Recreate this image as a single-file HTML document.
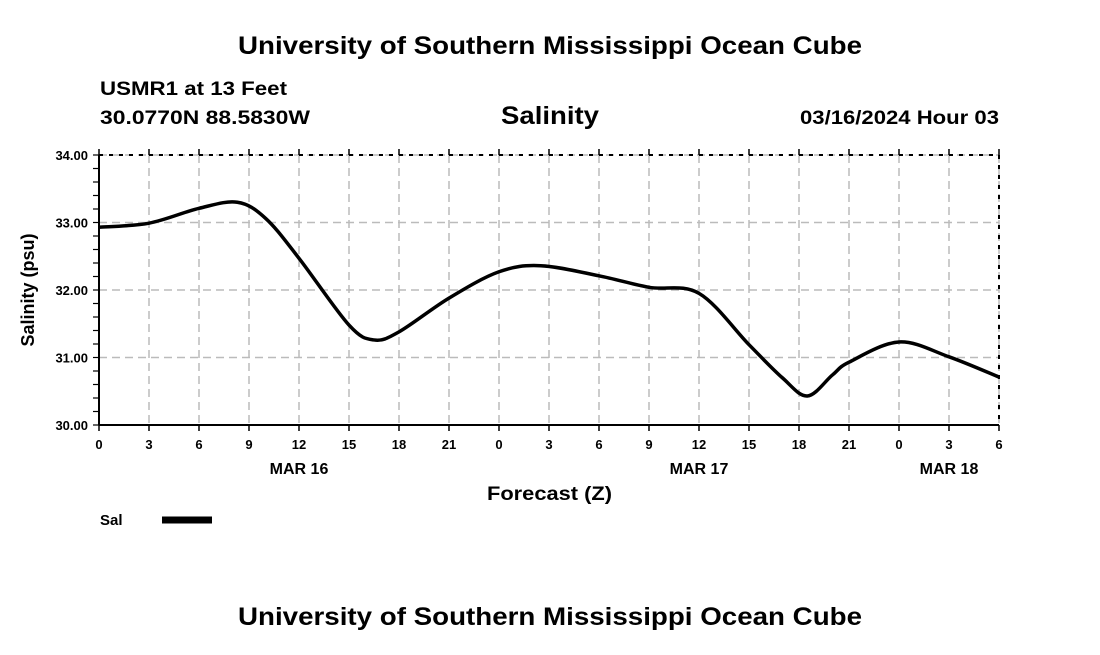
<!DOCTYPE html>
<html><head><meta charset="utf-8"><style>
body{margin:0;background:#fff;width:1100px;height:650px;overflow:hidden}
svg text{font-family:"Liberation Sans",sans-serif;font-weight:bold;fill:#000}
</style></head><body>
<svg id="c" width="1100" height="650">
<text x="238" y="54" font-size="25" textLength="624" lengthAdjust="spacingAndGlyphs">University of Southern Mississippi Ocean Cube</text>
<text x="100" y="95" font-size="19" textLength="187" lengthAdjust="spacingAndGlyphs">USMR1 at 13 Feet</text>
<text x="100" y="124" font-size="19" textLength="210" lengthAdjust="spacingAndGlyphs">30.0770N  88.5830W</text>
<text x="501" y="124" font-size="25" textLength="98" lengthAdjust="spacingAndGlyphs">Salinity</text>
<text x="800" y="124" font-size="19" textLength="199" lengthAdjust="spacingAndGlyphs">03/16/2024 Hour 03</text>
<text transform="translate(34,290) rotate(-90)" font-size="18" text-anchor="middle">Salinity (psu)</text>
<text x="487" y="500" font-size="19" textLength="125" lengthAdjust="spacingAndGlyphs">Forecast (Z)</text>
<text x="100" y="525" font-size="15">Sal</text>
<line x1="162" y1="520" x2="212" y2="520" stroke="#000" stroke-width="7"/>
<text x="238" y="625" font-size="25" textLength="624" lengthAdjust="spacingAndGlyphs">University of Southern Mississippi Ocean Cube</text>
<g id="g"></g>
</svg>
<script>
const hours=[0,3,6,8.3,10,12,15,16.5,18,21,24,26.5,30,33,36,39,41,42.5,44,45,48,51,54];
const sal=[32.93,32.99,33.21,33.30,33.06,32.47,31.48,31.26,31.38,31.88,32.27,32.36,32.21,32.04,31.95,31.19,30.70,30.43,30.74,30.93,31.23,31.01,30.71];
const yTicks=[30,31,32,33,34];
const xTickLabels=['0','3','6','9','12','15','18','21','0','3','6','9','12','15','18','21','0','3','6'];
const dayLabels=['MAR 16','MAR 17','MAR 18'];
const dayHours=[12,36,51];
const X=h=>99+h*(900/54), Y=v=>425-(v-30)*67.5;
const g=document.getElementById('g'),NS='http://www.w3.org/2000/svg';
function mk(t,a){const e=document.createElementNS(NS,t);for(const k in a)e.setAttribute(k,a[k]);g.appendChild(e);return e;}
yTicks.forEach(v=>{
 const l=mk('line',{x1:99,x2:999,y1:Y(v),y2:Y(v),stroke:'#bbb','stroke-dasharray':'8,5','stroke-width':1.5});
 
 
 const t=mk('text',{x:88,y:Y(v)+5,'font-size':13,'text-anchor':'end'});t.textContent=v.toFixed(2);
 
 
});
for(let v=30;v<=34.001;v+=0.2){mk('line',{x1:93,x2:99,y1:Y(v),y2:Y(v),stroke:'#000','stroke-width':1.2});}
xTickLabels.forEach((s,i)=>{
 const x=X(i*3);
 const l=mk('line',{x1:x,x2:x,y1:155,y2:425,stroke:'#bbb','stroke-dasharray':'8,5','stroke-width':1.5});
 
 
 mk('line',{x1:x,x2:x,y1:149,y2:155,stroke:'#000','stroke-width':1.5});
 mk('line',{x1:x,x2:x,y1:425,y2:431,stroke:'#000','stroke-width':1.5});
 const t=mk('text',{x:x,y:449,'font-size':13,'text-anchor':'middle'});t.textContent=s;
 
 
});
dayLabels.forEach((s,i)=>{const t=mk('text',{x:X(dayHours[i]),y:474,'font-size':16,'text-anchor':'middle'});t.textContent=s;
 
 });
mk('line',{x1:99,x2:999,y1:155,y2:155,stroke:'#000','stroke-width':2,'stroke-dasharray':'4,6'});
mk('line',{x1:999,x2:999,y1:155,y2:425,stroke:'#000','stroke-width':2,'stroke-dasharray':'4,6'});
mk('line',{x1:99,x2:99,y1:155,y2:425,stroke:'#000','stroke-width':2});
mk('line',{x1:99,x2:999,y1:425,y2:425,stroke:'#000','stroke-width':2});
const P=hours.map((h,i)=>[X(h),Y(sal[i])]);
let d='M'+P[0][0]+','+P[0][1];
for(let i=0;i<P.length-1;i++){
 const p0=P[Math.max(0,i-1)],p1=P[i],p2=P[i+1],p3=P[Math.min(P.length-1,i+2)];
 const c1=[p1[0]+(p2[0]-p0[0])/6,p1[1]+(p2[1]-p0[1])/6],c2=[p2[0]-(p3[0]-p1[0])/6,p2[1]-(p3[1]-p1[1])/6];
 d+=` C${c1[0]},${c1[1]} ${c2[0]},${c2[1]} ${p2[0]},${p2[1]}`;
}
const line=mk('path',{d:d,fill:'none',stroke:'#000','stroke-width':3.5});


</script>
</body></html>
